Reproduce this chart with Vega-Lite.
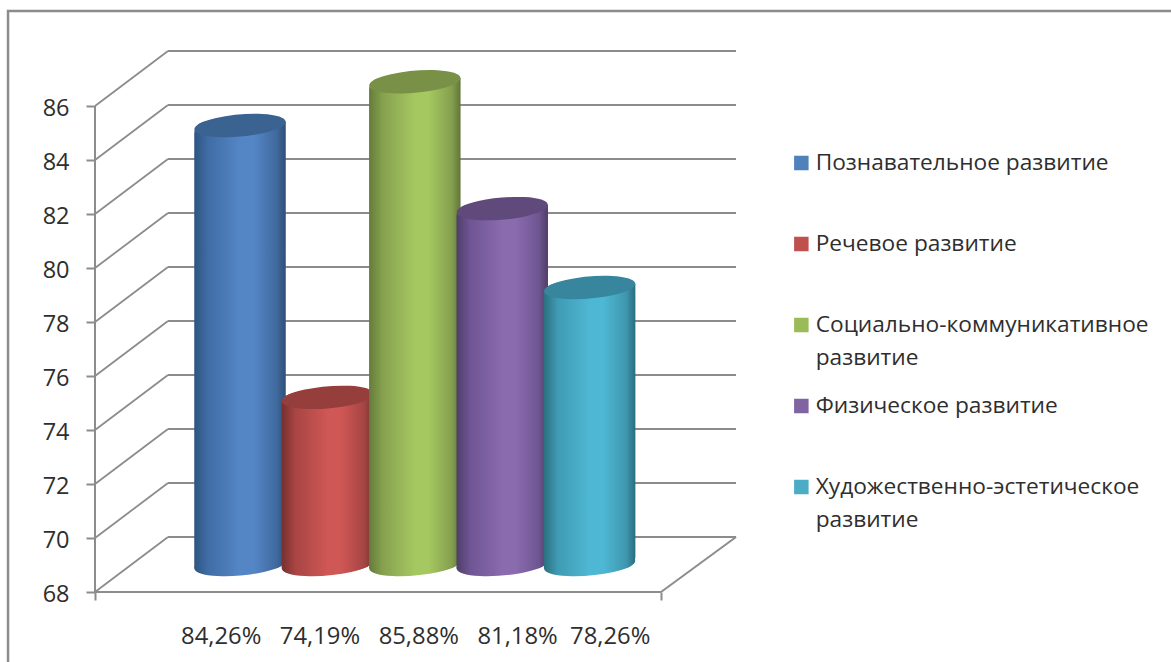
{"$schema":"https://vega.github.io/schema/vega-lite/v6.json","autosize":{"type":"none"},"padding":{"left":95,"top":52,"right":434,"bottom":70},"width":642,"height":540,"background":"white","config":{"view":{"stroke":null},"style":{"guide-label":{"lineHeight":33}}},
"datasets":{"series":[{"n":1,"series":"Познавательное развитие","value":84.26},{"n":2,"series":"Речевое развитие","value":74.19},{"n":3,"series":"Социально-коммуникативное развитие","value":85.88},{"n":4,"series":"Физическое развитие","value":81.18},{"n":5,"series":"Художественно-эстетическое развитие","value":78.26}],
"grid":[{"v":68},{"v":70},{"v":72},{"v":74},{"v":76},{"v":78},{"v":80},{"v":82},{"v":84},{"v":86}],"one":[{"part":"frame"}],"cat":[{"label":"84,26%\u00a0\u00a0\u00a074,19%\u00a0\u00a0\u00a085,88%\u00a0\u00a0\u00a081,18%\u00a0\u00a078,26%"}]},
"layer":[
{"data":{"name":"one"},"mark":{"type":"rect","fill":"transparent","stroke":"#8c8c8c","strokeWidth":2.5},"encoding":{"x":{"datum":-1.654,"type":"quantitative","scale":{"domain":[-0.659,6.686],"nice":false,"zero":false,"padding":0},"axis":{"values":[-0.659,5.817],"labels":false,"tickSize":8,"tickWidth":2,"tickColor":"#8c8c8c","domain":false,"grid":false,"title":null}},"x2":{"datum":20},"y":{"datum":89.52,"type":"quantitative","scale":{"domain":[68,88],"nice":false,"zero":false,"padding":0},"axis":{"values":[68,70,72,74,76,78,80,82,84,86],"domain":false,"grid":false,"title":null,"tickSize":9,"tickWidth":2,"tickColor":"#8c8c8c","labelPadding":17,"labelFont":"Open Sans","labelFontSize":23.5,"labelColor":"#2e2e2e","labelOffset":2,"labelBaseline":"middle"}},"y2":{"datum":60}}},
{"data":{"name":"grid"},"mark":{"type":"rule","color":"#8c8c8c","strokeWidth":1.8,"yOffset":-55},"encoding":{"x":{"datum":0.176,"type":"quantitative"},"x2":{"datum":6.675},"y":{"field":"v","type":"quantitative"}}},
{"data":{"name":"grid"},"mark":{"type":"rule","color":"#8c8c8c","strokeWidth":1.8,"y2Offset":-55},"encoding":{"x":{"datum":-0.659,"type":"quantitative"},"x2":{"datum":0.176},"y":{"field":"v","type":"quantitative"},"y2":{"field":"v"}}},
{"data":{"name":"one"},"mark":{"type":"rule","color":"#8c8c8c","strokeWidth":2},"encoding":{"x":{"datum":-0.659,"type":"quantitative"},"y":{"datum":68,"type":"quantitative"},"y2":{"datum":86}}},
{"data":{"name":"one"},"mark":{"type":"rule","color":"#8c8c8c","strokeWidth":2},"encoding":{"x":{"datum":-0.659,"type":"quantitative"},"x2":{"datum":5.817},"y":{"datum":68,"type":"quantitative"}}},
{"data":{"name":"one"},"mark":{"type":"rule","color":"#8c8c8c","strokeWidth":2,"y2Offset":-55},"encoding":{"x":{"datum":5.817,"type":"quantitative"},"x2":{"datum":6.675},"y":{"datum":68,"type":"quantitative"},"y2":{"datum":68}}},
{"data":{"name":"series"},"transform":[{"filter":"datum.n===1"}],"layer":[
{"mark":{"type":"point","filled":true,"opacity":1,"strokeWidth":0,"size":8372,"yOffset":-27.5,"shape":"M-0.996,0.087A1,0.237,-5,1,1,0.996,-0.087A1,0.237,-5,1,1,-0.996,0.087Z","color":{"x1":0,"x2":1,"y1":0,"y2":0,"gradient":"linear","stops":[{"offset":0,"color":"#2d5482"},{"offset":0.15,"color":"#3f6da4"},{"offset":0.5,"color":"#5486c6"},{"offset":0.65,"color":"#5486c6"},{"offset":0.9,"color":"#40699e"},{"offset":1,"color":"#2f5076"}]}},"encoding":{"x":{"field":"n","type":"quantitative"},"y":{"datum":68,"type":"quantitative"}}},
{"mark":{"type":"bar","width":91.5,"yOffset":-31.5,"y2Offset":-23.5,"cornerRadiusTopLeft":12,"cornerRadiusBottomRight":12,"color":{"x1":0,"x2":1,"y1":0,"y2":0,"gradient":"linear","stops":[{"offset":0,"color":"#2d5482"},{"offset":0.15,"color":"#3f6da4"},{"offset":0.5,"color":"#5486c6"},{"offset":0.65,"color":"#5486c6"},{"offset":0.9,"color":"#40699e"},{"offset":1,"color":"#2f5076"}]}},"encoding":{"x":{"field":"n","type":"quantitative"},"y":{"field":"value","type":"quantitative"},"y2":{"datum":68}}},
{"mark":{"type":"point","filled":true,"opacity":1,"strokeWidth":0,"size":8372,"yOffset":-27.5,"shape":"M-0.996,0.087A1,0.237,-5,1,1,0.996,-0.087A1,0.237,-5,1,1,-0.996,0.087Z","color":"#3b6392"},"encoding":{"x":{"field":"n","type":"quantitative"},"y":{"field":"value","type":"quantitative"}}}]},
{"data":{"name":"series"},"transform":[{"filter":"datum.n===2"}],"layer":[
{"mark":{"type":"point","filled":true,"opacity":1,"strokeWidth":0,"size":8372,"yOffset":-27.5,"shape":"M-0.996,0.087A1,0.237,-5,1,1,0.996,-0.087A1,0.237,-5,1,1,-0.996,0.087Z","color":{"x1":0,"x2":1,"y1":0,"y2":0,"gradient":"linear","stops":[{"offset":0,"color":"#763030"},{"offset":0.15,"color":"#a84543"},{"offset":0.5,"color":"#cf5755"},{"offset":0.65,"color":"#cf5755"},{"offset":0.9,"color":"#a64543"},{"offset":1,"color":"#7a3331"}]}},"encoding":{"x":{"field":"n","type":"quantitative"},"y":{"datum":68,"type":"quantitative"}}},
{"mark":{"type":"bar","width":91.5,"yOffset":-31.5,"y2Offset":-23.5,"cornerRadiusTopLeft":12,"cornerRadiusBottomRight":12,"color":{"x1":0,"x2":1,"y1":0,"y2":0,"gradient":"linear","stops":[{"offset":0,"color":"#763030"},{"offset":0.15,"color":"#a84543"},{"offset":0.5,"color":"#cf5755"},{"offset":0.65,"color":"#cf5755"},{"offset":0.9,"color":"#a64543"},{"offset":1,"color":"#7a3331"}]}},"encoding":{"x":{"field":"n","type":"quantitative"},"y":{"field":"value","type":"quantitative"},"y2":{"datum":68}}},
{"mark":{"type":"point","filled":true,"opacity":1,"strokeWidth":0,"size":8372,"yOffset":-27.5,"shape":"M-0.996,0.087A1,0.237,-5,1,1,0.996,-0.087A1,0.237,-5,1,1,-0.996,0.087Z","color":"#963e3c"},"encoding":{"x":{"field":"n","type":"quantitative"},"y":{"field":"value","type":"quantitative"}}}]},
{"data":{"name":"series"},"transform":[{"filter":"datum.n===3"}],"layer":[
{"mark":{"type":"point","filled":true,"opacity":1,"strokeWidth":0,"size":8372,"yOffset":-27.5,"shape":"M-0.996,0.087A1,0.237,-5,1,1,0.996,-0.087A1,0.237,-5,1,1,-0.996,0.087Z","color":{"x1":0,"x2":1,"y1":0,"y2":0,"gradient":"linear","stops":[{"offset":0,"color":"#657c3b"},{"offset":0.15,"color":"#86a14e"},{"offset":0.5,"color":"#a5c861"},{"offset":0.65,"color":"#a5c861"},{"offset":0.9,"color":"#85a04e"},{"offset":1,"color":"#61763a"}]}},"encoding":{"x":{"field":"n","type":"quantitative"},"y":{"datum":68,"type":"quantitative"}}},
{"mark":{"type":"bar","width":91.5,"yOffset":-31.5,"y2Offset":-23.5,"cornerRadiusTopLeft":12,"cornerRadiusBottomRight":12,"color":{"x1":0,"x2":1,"y1":0,"y2":0,"gradient":"linear","stops":[{"offset":0,"color":"#657c3b"},{"offset":0.15,"color":"#86a14e"},{"offset":0.5,"color":"#a5c861"},{"offset":0.65,"color":"#a5c861"},{"offset":0.9,"color":"#85a04e"},{"offset":1,"color":"#61763a"}]}},"encoding":{"x":{"field":"n","type":"quantitative"},"y":{"field":"value","type":"quantitative"},"y2":{"datum":68}}},
{"mark":{"type":"point","filled":true,"opacity":1,"strokeWidth":0,"size":8372,"yOffset":-27.5,"shape":"M-0.996,0.087A1,0.237,-5,1,1,0.996,-0.087A1,0.237,-5,1,1,-0.996,0.087Z","color":"#799146"},"encoding":{"x":{"field":"n","type":"quantitative"},"y":{"field":"value","type":"quantitative"}}}]},
{"data":{"name":"series"},"transform":[{"filter":"datum.n===4"}],"layer":[
{"mark":{"type":"point","filled":true,"opacity":1,"strokeWidth":0,"size":8372,"yOffset":-27.5,"shape":"M-0.996,0.087A1,0.237,-5,1,1,0.996,-0.087A1,0.237,-5,1,1,-0.996,0.087Z","color":{"x1":0,"x2":1,"y1":0,"y2":0,"gradient":"linear","stops":[{"offset":0,"color":"#4f3e68"},{"offset":0.15,"color":"#6f5594"},{"offset":0.5,"color":"#8a6bae"},{"offset":0.65,"color":"#8a6bae"},{"offset":0.9,"color":"#6e5591"},{"offset":1,"color":"#4f3d66"}]}},"encoding":{"x":{"field":"n","type":"quantitative"},"y":{"datum":68,"type":"quantitative"}}},
{"mark":{"type":"bar","width":91.5,"yOffset":-31.5,"y2Offset":-23.5,"cornerRadiusTopLeft":12,"cornerRadiusBottomRight":12,"color":{"x1":0,"x2":1,"y1":0,"y2":0,"gradient":"linear","stops":[{"offset":0,"color":"#4f3e68"},{"offset":0.15,"color":"#6f5594"},{"offset":0.5,"color":"#8a6bae"},{"offset":0.65,"color":"#8a6bae"},{"offset":0.9,"color":"#6e5591"},{"offset":1,"color":"#4f3d66"}]}},"encoding":{"x":{"field":"n","type":"quantitative"},"y":{"field":"value","type":"quantitative"},"y2":{"datum":68}}},
{"mark":{"type":"point","filled":true,"opacity":1,"strokeWidth":0,"size":8372,"yOffset":-27.5,"shape":"M-0.996,0.087A1,0.237,-5,1,1,0.996,-0.087A1,0.237,-5,1,1,-0.996,0.087Z","color":"#604a7b"},"encoding":{"x":{"field":"n","type":"quantitative"},"y":{"field":"value","type":"quantitative"}}}]},
{"data":{"name":"series"},"transform":[{"filter":"datum.n===5"}],"layer":[
{"mark":{"type":"point","filled":true,"opacity":1,"strokeWidth":0,"size":8372,"yOffset":-27.5,"shape":"M-0.996,0.087A1,0.237,-5,1,1,0.996,-0.087A1,0.237,-5,1,1,-0.996,0.087Z","color":{"x1":0,"x2":1,"y1":0,"y2":0,"gradient":"linear","stops":[{"offset":0,"color":"#2b6f80"},{"offset":0.15,"color":"#3f9bb3"},{"offset":0.5,"color":"#4eb7d3"},{"offset":0.65,"color":"#4eb7d3"},{"offset":0.9,"color":"#3e97ae"},{"offset":1,"color":"#2b6d7e"}]}},"encoding":{"x":{"field":"n","type":"quantitative"},"y":{"datum":68,"type":"quantitative"}}},
{"mark":{"type":"bar","width":91.5,"yOffset":-31.5,"y2Offset":-23.5,"cornerRadiusTopLeft":12,"cornerRadiusBottomRight":12,"color":{"x1":0,"x2":1,"y1":0,"y2":0,"gradient":"linear","stops":[{"offset":0,"color":"#2b6f80"},{"offset":0.15,"color":"#3f9bb3"},{"offset":0.5,"color":"#4eb7d3"},{"offset":0.65,"color":"#4eb7d3"},{"offset":0.9,"color":"#3e97ae"},{"offset":1,"color":"#2b6d7e"}]}},"encoding":{"x":{"field":"n","type":"quantitative"},"y":{"field":"value","type":"quantitative"},"y2":{"datum":68}}},
{"mark":{"type":"point","filled":true,"opacity":1,"strokeWidth":0,"size":8372,"yOffset":-27.5,"shape":"M-0.996,0.087A1,0.237,-5,1,1,0.996,-0.087A1,0.237,-5,1,1,-0.996,0.087Z","color":"#37869e"},"encoding":{"x":{"field":"n","type":"quantitative"},"y":{"field":"value","type":"quantitative"}}}]},
{"data":{"name":"cat"},"mark":{"type":"text","font":"Open Sans","fontSize":23.8,"color":"#2e2e2e","yOffset":45,"baseline":"middle","align":"center"},"encoding":{"x":{"datum":3.01,"type":"quantitative"},"y":{"datum":68,"type":"quantitative"},"text":{"field":"label"}}},
{"data":{"name":"series"},"mark":{"type":"point","filled":true,"opacity":0,"size":0},"encoding":{"x":{"field":"n","type":"quantitative"},"y":{"field":"value","type":"quantitative"},"color":{"field":"series","type":"nominal","sort":null,"scale":{"domain":["Познавательное развитие","Речевое развитие","Социально-коммуникативное развитие","Физическое развитие","Художественно-эстетическое развитие"],"range":["#4f81bd","#c0504d","#9bbb59","#8064a2","#4bacc6"]},"legend":{"title":null,"orient":"none","legendX":695,"legendY":75.5,"padding":0,"symbolType":"square","symbolSize":210,"symbolOpacity":1,"symbolStrokeWidth":0,"labelFont":"Open Sans","labelFontSize":22.7,"labelColor":"#2e2e2e","labelLimit":500,"labelOffset":3,"labelBaseline":"middle","clipHeight":71,"rowPadding":0,"gridAlign":"all","labelExpr":"indexof(datum.label,'-')>0 ? split(replace(datum.label,' развитие','|развитие'),'|') : datum.label"}}}}
]}
